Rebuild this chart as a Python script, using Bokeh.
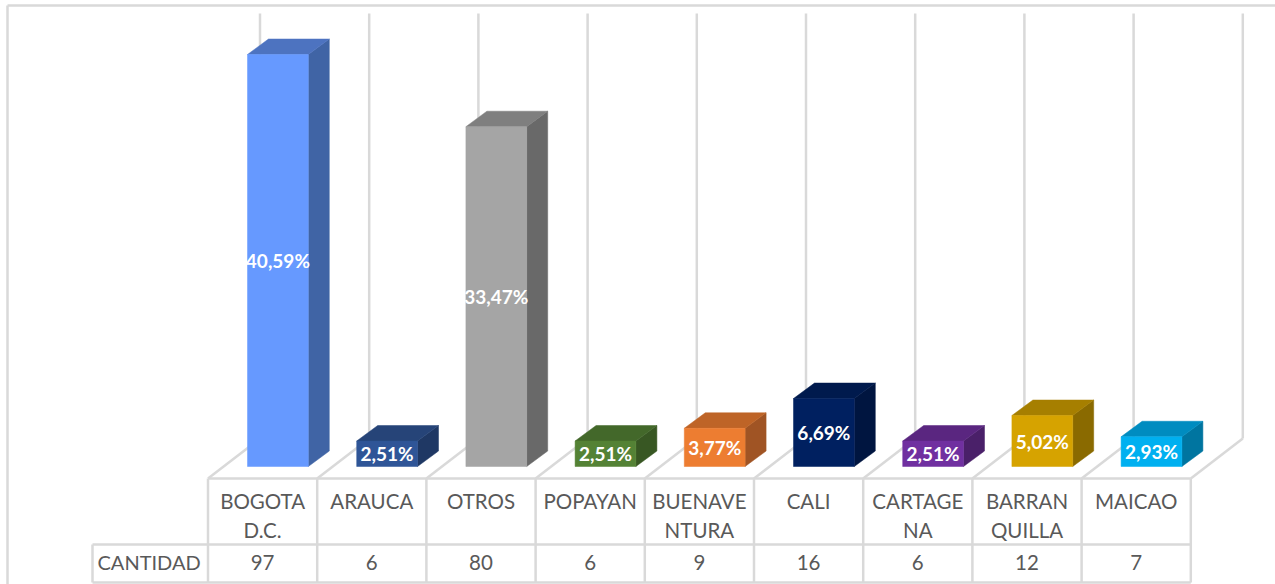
from bokeh.plotting import figure
from bokeh.embed import file_html
from bokeh.resources import INLINE
from bokeh.core.properties import value
from bokeh.models import Range1d, ColumnDataSource

cat_line1 = ["BOGOTA", "ARAUCA", "OTROS", "POPAYAN", "BUENAVE", "CALI", "CARTAGE", "BARRAN", "MAICAO"]
cat_line2 = ["D.C.", "", "", "", "NTURA", "", "NA", "QUILLA", ""]
cantidad = [97, 6, 80, 6, 9, 16, 6, 12, 7]
labels = ["40,59%", "2,51%", "33,47%", "2,51%", "3,77%", "6,69%", "2,51%", "5,02%", "2,93%"]
front = ["#6699FF", "#2F5597", "#A5A5A5", "#548235", "#ED7D31", "#002060", "#7030A0", "#D6A300", "#00B0F0"]
top_c = ["#4D73C0", "#264478", "#7F7F7F", "#43682A", "#BE6427", "#001A4D", "#5A2680", "#A67F00", "#008CC0"]
side_c = ["#4064A5", "#1F3864", "#696969", "#385723", "#A05424", "#001540", "#4A2069", "#8A6A00", "#0075A0"]

W, H = 1275, 584
PX_X = 109.2        # pixels per category
PX_Y = 412 / 97     # pixels per count
X0_PAGE, Y0_PAGE = 207.5, 466.0   # picture position of data origin

def dx(px):
    return px / PX_X
def dy(px):
    return px / PX_Y

xr = Range1d((0 - X0_PAGE) / PX_X, (W - X0_PAGE) / PX_X)
yr = Range1d((Y0_PAGE - H) / PX_Y, Y0_PAGE / PX_Y)

p = figure(width=W, height=H, x_range=xr, y_range=yr, output_backend="svg",
           toolbar_location=None, min_border=0, background_fill_color="white",
           border_fill_color="white", outline_line_color=None)
p.axis.visible = False
p.grid.visible = False

GRID = "#D9D9D9"
LW = 2.5
n = len(cantidad)

# chart frame
p.line([dx(7 - X0_PAGE), dx(7 - X0_PAGE)], [dy(Y0_PAGE - 584), dy(Y0_PAGE - 5)], line_color=GRID, line_width=LW)
p.line([dx(7 - X0_PAGE), dx(1275 - X0_PAGE)], [dy(Y0_PAGE - 5), dy(Y0_PAGE - 5)], line_color=GRID, line_width=LW)

# back wall uprights and floor diagonals
BACK_X, BACK_Y = 52.0, 40.0
FLOOR = dy(-12)
for i in range(n + 1):
    xb = i + dx(BACK_X)
    p.line([xb, xb], [FLOOR + dy(BACK_Y), dy(Y0_PAGE - 13)], line_color=GRID, line_width=LW)
    p.line([i, xb], [FLOOR, FLOOR + dy(BACK_Y)], line_color=GRID, line_width=LW)

# data table grid
ROW1, ROW2 = dy(Y0_PAGE - 544), dy(Y0_PAGE - 582)
HEAD = dx(92 - X0_PAGE)
p.line([0, n], [FLOOR, FLOOR], line_color=GRID, line_width=LW)
p.line([HEAD, n], [ROW1, ROW1], line_color=GRID, line_width=LW)
p.line([HEAD, n], [ROW2, ROW2], line_color=GRID, line_width=LW)
p.line([HEAD, HEAD], [ROW1, ROW2], line_color=GRID, line_width=LW)
for i in range(n + 1):
    p.line([i, i], [FLOOR, ROW2], line_color=GRID, line_width=LW)

# 3D columns
LEFT, WIDTH = dx(39.5), dx(60.8)
DX, DY = dx(21), dy(15.5)
for i, v in enumerate(cantidad):
    l, r = i + LEFT, i + LEFT + WIDTH
    p.patch([r, r + DX, r + DX, r], [0, DY, v + DY, v], fill_color=side_c[i], line_color=side_c[i], line_width=0.5)
    p.patch([l, l + DX, r + DX, r], [v, v + DY, v + DY, v], fill_color=top_c[i], line_color=top_c[i], line_width=0.5)
    p.quad(left=l, right=r, bottom=0, top=v, fill_color=front[i], line_color=front[i], line_width=0.5)

src = ColumnDataSource(dict(
    xc=[i + LEFT + WIDTH / 2 for i in range(n)],
    ym=[v / 2 for v in cantidad],
    lab=labels,
    xm=[i + 0.5 for i in range(n)],
    l1=cat_line1, l2=cat_line2,
    val=[str(v) for v in cantidad],
    y1=[dy(Y0_PAGE - 500)] * n,
    y2=[dy(Y0_PAGE - 529.5)] * n,
    y3=[dy(Y0_PAGE - 562)] * n,
))
TXT = "#595959"
p.text("xc", "ym", text="lab", source=src, text_color="white", text_font=value("Lato"),
       text_font_style="bold", text_font_size="19px", text_align="center", text_baseline="middle")
for col, yc in (("l1", "y1"), ("l2", "y2"), ("val", "y3")):
    p.text("xm", yc, text=col, source=src, text_color=TXT, text_font=value("Lato"),
           text_font_size="20.5px", text_align="center", text_baseline="middle")
p.text([dx(97 - X0_PAGE)], [dy(Y0_PAGE - 561)], text=["CANTIDAD"], text_color=TXT,
       text_font=value("Lato"), text_font_size="20px", text_align="left", text_baseline="middle")

open("out.html", "w").write(file_html(p, INLINE))
